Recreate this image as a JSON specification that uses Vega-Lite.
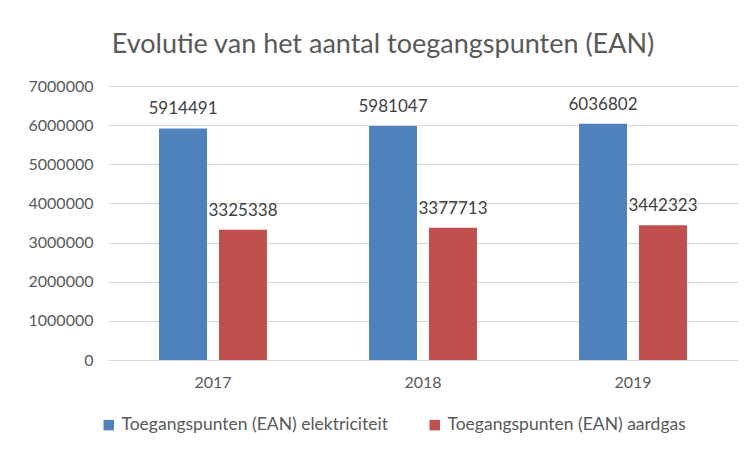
{
  "$schema": "https://vega.github.io/schema/vega-lite/v6.json",
  "width": 630,
  "height": 274,
  "autosize": "none",
  "padding": {"left": 108, "top": 86, "right": 6, "bottom": 90},
  "background": "white",
  "config": {
    "font": "Lato",
    "view": {"stroke": null},
    "axis": {"labelFont": "Lato", "labelColor": "#595959", "labelFontSize": 16, "titleFont": "Lato"},
    "legend": {"labelFont": "Lato"}
  },
  "title": {
    "text": "Evolutie van het aantal toegangspunten (EAN)",
    "font": "Lato",
    "fontSize": 27,
    "fontWeight": "normal",
    "color": "#595959",
    "anchor": "middle",
    "dx": -40,
    "offset": 19
  },
  "data": {
    "values": [
      {"jaar": "2017", "type": "Toegangspunten (EAN) elektriciteit", "aantal": 5914491},
      {"jaar": "2017", "type": "Toegangspunten (EAN) aardgas", "aantal": 3325338},
      {"jaar": "2018", "type": "Toegangspunten (EAN) elektriciteit", "aantal": 5981047},
      {"jaar": "2018", "type": "Toegangspunten (EAN) aardgas", "aantal": 3377713},
      {"jaar": "2019", "type": "Toegangspunten (EAN) elektriciteit", "aantal": 6036802},
      {"jaar": "2019", "type": "Toegangspunten (EAN) aardgas", "aantal": 3442323}
    ]
  },
  "encoding": {
    "x": {
      "field": "jaar", "type": "nominal",
      "scale": {"paddingInner": 0.486, "paddingOuter": 0.243},
      "axis": {"title": null, "labelAngle": 0, "ticks": false, "domainColor": "#D9D9D9", "domainWidth": 1, "labelPadding": 14}
    },
    "xOffset": {
      "field": "type", "type": "nominal",
      "sort": ["Toegangspunten (EAN) elektriciteit", "Toegangspunten (EAN) aardgas"],
      "scale": {"paddingInner": 0.2, "paddingOuter": 0}
    },
    "y": {
      "field": "aantal", "type": "quantitative",
      "scale": {"domain": [0, 7000000], "nice": false},
      "axis": {"title": null, "values": [0, 1000000, 2000000, 3000000, 4000000, 5000000, 6000000, 7000000], "format": "d", "domain": false, "ticks": false, "labelPadding": 15, "gridColor": "#D9D9D9", "gridWidth": 1}
    }
  },
  "layer": [
    {
      "mark": {"type": "bar"},
      "encoding": {
        "color": {
          "field": "type", "type": "nominal",
          "sort": ["Toegangspunten (EAN) elektriciteit", "Toegangspunten (EAN) aardgas"],
          "scale": {"domain": ["Toegangspunten (EAN) elektriciteit", "Toegangspunten (EAN) aardgas"], "range": ["#4F81BD", "#C0504D"]},
          "legend": {
            "title": null,
            "orient": "none",
            "direction": "horizontal",
            "legendX": -8,
            "legendY": 330,
            "symbolType": "square",
            "symbolSize": 110,
            "symbolStrokeWidth": 0,
            "labelFontSize": 17.5,
            "labelColor": "#595959",
            "labelOffset": 4,
            "labelLimit": 0,
            "columnPadding": 37
          }
        }
      }
    },
    {
      "mark": {"type": "text", "dy": -10, "fontSize": 17, "color": "#404040", "baseline": "bottom", "font": "Lato"},
      "encoding": {
        "text": {"field": "aantal", "type": "quantitative", "format": "d"}
      }
    }
  ]
}
